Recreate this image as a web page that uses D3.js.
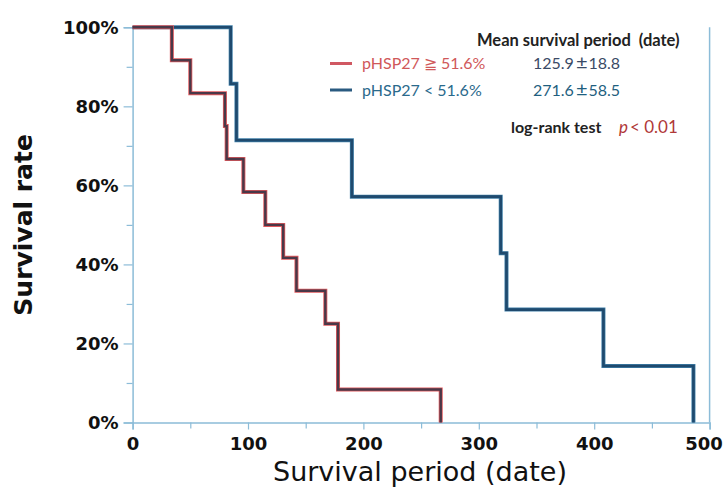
<!DOCTYPE html>
<html>
<head>
<meta charset="utf-8">
<script src="https://cdn.jsdelivr.net/npm/d3@7"></script>
<style>
  html, body { margin: 0; padding: 0; background: #ffffff; }
  svg { display: block; }
</style>
</head>
<body>
<svg id="chart" width="724" height="492"></svg>
<script>
// ---------- data ----------
const highTimes = [0, 34, 50, 80, 81.5, 96, 115, 130.5, 142, 167, 178, 267];
const highSurv  = [1, 11/12, 10/12, 9/12, 8/12, 7/12, 6/12, 5/12, 4/12, 3/12, 1/12, 0];
const lowTimes  = [0, 85, 90, 190, 319, 324, 408, 486];
const lowSurv   = [1, 6/7, 5/7, 4/7, 3/7, 2/7, 1/7, 0];
const yTickValues = [0, 0.2, 0.4, 0.6, 0.8, 1.0];
const yMinorValues = [0.1, 0.3, 0.5, 0.7, 0.9];
const xTickValues = [0, 100, 200, 300, 400, 500];
const xMinorValues = [50, 150, 250, 350, 450];
const seriesNames = ["pHSP27 \u2267 51.6%", "pHSP27 < 51.6%"];
const meanValues = ["125.9", "271.6"];
const meanErrors = ["18.8", "58.5"];

// ---------- layout ----------
const svg = d3.select("#chart");
const x = d3.scaleLinear().domain([0, 500]).range([132.6, 709.6]);
const y = d3.scaleLinear().domain([0, 1]).range([422.5, 27.3]);
const axisColor = "#8cbcd8";

// y axis
const gy = svg.append("g").attr("transform", `translate(${x(0)},0)`);
gy.call(d3.axisLeft(y).tickValues(yTickValues).tickFormat(d3.format(".0%")).tickSize(9).tickPadding(5));
const gyMinor = svg.append("g").attr("transform", `translate(${x(0)},0)`);
gyMinor.call(d3.axisLeft(y).tickValues(yMinorValues).tickFormat("").tickSize(6));
gyMinor.select(".domain").remove();

// x axis
const gx = svg.append("g").attr("transform", `translate(0,${y(0)})`);
gx.call(d3.axisBottom(x).tickValues(xTickValues).tickFormat(d3.format("d")).tickSize(7).tickPadding(8));
const gxMinor = svg.append("g").attr("transform", `translate(0,${y(0)})`);
gxMinor.call(d3.axisBottom(x).tickValues(xMinorValues).tickFormat("").tickSize(6));
gxMinor.select(".domain").remove();

[gy, gx, gyMinor, gxMinor].forEach(g => {
  g.selectAll(".domain").attr("stroke", axisColor).attr("stroke-width", 1.5);
  g.selectAll(".tick line").attr("stroke", axisColor).attr("stroke-width", 1.2);
  g.selectAll(".tick text")
    .attr("fill", "#111")
    .style("font-family", "'DejaVu Sans', Verdana, sans-serif")
    .style("font-weight", "bold")
    .style("font-size", "18px");
});
// keep the last x label inside the picture, as in the reference
gx.selectAll(".tick text").filter(d => d === 500).attr("dx", -6);

// right border line
svg.append("line")
  .attr("x1", x(500)).attr("x2", x(500))
  .attr("y1", y(1)).attr("y2", y(0))
  .attr("stroke", axisColor).attr("stroke-width", 1.5);

// axis titles
svg.append("text")
  .attr("transform", `translate(32,${(y(0) + y(1)) / 2}) rotate(-90)`)
  .attr("text-anchor", "middle")
  .style("font-family", "'DejaVu Sans', Verdana, sans-serif")
  .style("font-weight", "bold")
  .style("font-size", "25px")
  .attr("fill", "#111")
  .text("Survival rate");

svg.append("text")
  .attr("x", 420).attr("y", 481)
  .attr("text-anchor", "middle")
  .style("font-family", "'DejaVu Sans', Verdana, sans-serif")
  .style("font-size", "27px")
  .attr("fill", "#111")
  .text("Survival period (date)");

// ---------- curves ----------
const line = d3.line().x(d => x(d[0])).y(d => y(d[1])).curve(d3.curveStepAfter);
const highPts = highTimes.map((t, i) => [t, highSurv[i]]);
const lowPts = lowTimes.map((t, i) => [t, lowSurv[i]]);

svg.append("path").attr("d", line(lowPts)).attr("fill", "none")
  .attr("stroke", "#3f7fa8").attr("stroke-width", 4);
svg.append("path").attr("d", line(lowPts)).attr("fill", "none")
  .attr("stroke", "#1f4a6e").attr("stroke-width", 2.6);

svg.append("path").attr("d", line(highPts)).attr("fill", "none")
  .attr("stroke", "#e0585c").attr("stroke-width", 4);
svg.append("path").attr("d", line(highPts)).attr("fill", "none")
  .attr("stroke", "#4a3848").attr("stroke-width", 2.4);

// ---------- legend ----------
const lf = "Lato, 'Open Sans', sans-serif";
svg.append("text").attr("x", 477).attr("y", 46)
  .style("font-family", lf).style("font-weight", "bold").style("font-size", "16.5px")
  .attr("fill", "#222").attr("xml:space", "preserve")
  .text("Mean survival period  (date)");

const legColors = ["#d0585a", "#2a6a8c"];
const legLine = ["#d05862", "#2a5a80"];
const meanColors = ["#3a4a66", "#1f5f80"];
const legY = [63.5, 90];
seriesNames.forEach((name, i) => {
  svg.append("line").attr("x1", 330).attr("x2", 352).attr("y1", legY[i]).attr("y2", legY[i])
    .attr("stroke", legLine[i]).attr("stroke-width", 3);
  svg.append("text").attr("x", 362).attr("y", legY[i] + 5.5)
    .style("font-family", lf).style("font-size", "16px")
    .attr("fill", legColors[i]).text(name);
  const mt = svg.append("text").attr("x", 533).attr("y", legY[i] + 5.5)
    .style("font-family", lf).style("font-size", "16px")
    .attr("fill", meanColors[i]);
  mt.append("tspan").text(meanValues[i]);
  mt.append("tspan").attr("dx", 2).style("font-size", "20px").text("\u00B1");
  mt.append("tspan").attr("dx", 1).text(meanErrors[i]);
});

const lr = svg.append("text").attr("x", 511).attr("y", 133)
  .style("font-family", lf).style("font-size", "16px").attr("fill", "#222");
lr.append("tspan").style("font-weight", "bold").text("log-rank test");
lr.append("tspan").attr("x", 619).attr("fill", "#b03838").style("font-style", "italic").style("font-size", "17px").text("p");
lr.append("tspan").attr("fill", "#b03838").attr("dx", 2).style("font-size", "17px").text("< 0.01");
</script>
</body>
</html>
